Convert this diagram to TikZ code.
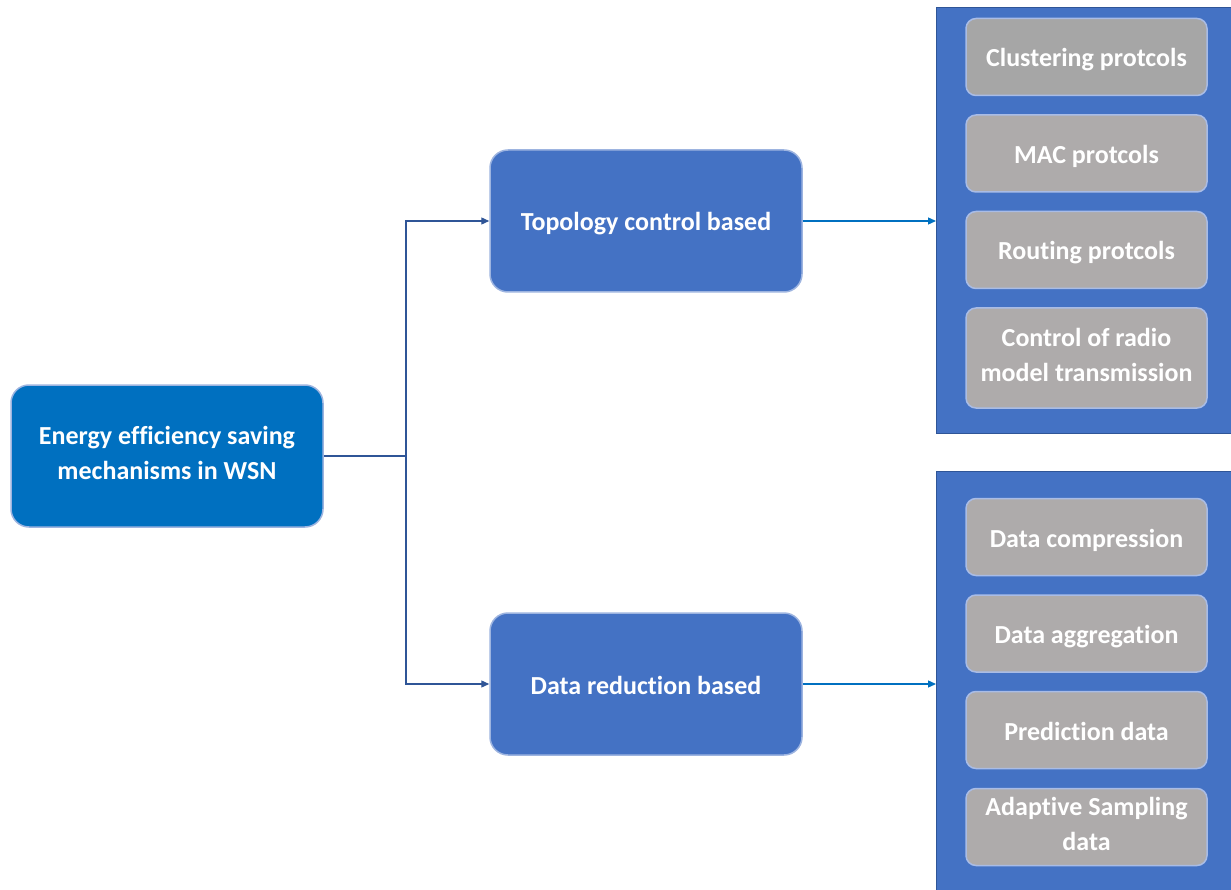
\documentclass[tikz,border=0pt]{standalone}
\usepackage{fontspec}
\setmainfont{Carlito}[Ligatures={NoCommon}]
\usetikzlibrary{arrows.meta}
\definecolor{mainblue}{HTML}{0070C0}
\definecolor{midblue}{HTML}{4472C4}
\definecolor{edgeblue}{HTML}{9DB4E0}
\definecolor{linkblue}{HTML}{2F5597}
\definecolor{panelblue}{HTML}{4472C4}
\definecolor{paneledge}{HTML}{2F5597}
\definecolor{greybox}{HTML}{AEABAB}
\definecolor{greyedge}{HTML}{A9BCE6}
\tikzset{
  txt/.style={text=white, align=center, inner sep=0pt,
    font=\fontsize{26}{35}\selectfont\bfseries,
    execute at begin node={\rule[-6pt]{0pt}{32pt}},
    execute at end node={\rule[-6pt]{0pt}{6pt}}},
  twoline/.style={execute at end node={}},
  rootbox/.style={txt, draw=edgeblue, line width=1.5pt, fill=mainblue, rounded corners=18pt,
    minimum width=312pt, minimum height=142pt},
  midbox/.style={txt, draw=edgeblue, line width=1.5pt, fill=midblue, rounded corners=18pt,
    minimum width=312pt, minimum height=142pt},
  itembox/.style={txt, draw=greyedge, line width=1.5pt, fill=greybox, rounded corners=10pt,
    minimum width=241pt, minimum height=77pt},
  panel/.style={draw=paneledge, line width=0.8pt, fill=panelblue},
  linkline/.style={draw=linkblue, line width=1.3pt},
  linkarrow/.style={draw=linkblue, line width=1.3pt, -{Triangle[length=8pt,width=7pt]}},
  outarrow/.style={draw=mainblue, line width=1.3pt, -{Triangle[length=8pt,width=7pt]}},
}
\begin{document}
\begin{tikzpicture}[x=1pt,y=-1pt]
\useasboundingbox (0,0) rectangle (1231,890);
\fill[white] (0,0) rectangle (1231,890);
% panels
\path[panel] (936,7) rectangle (1236,433);
\path[panel] (936,471) rectangle (1236,895);
\coordinate (p1) at (936,221);
\coordinate (p2) at (936,684);
% main nodes
\node[rootbox, twoline] (root) at (167,456) {Energy efficiency saving\\mechanisms in WSN};
\node[midbox] (topo) at (646,221) {Topology control based};
\node[midbox] (data) at (646,684) {Data reduction based};
% items
\node[itembox, fill={rgb,255:red,166;green,166;blue,166}] (c1) at (1086.5,57) {Clustering protcols};
\node[itembox] (c2) at (1086.5,153.5) {MAC protcols};
\node[itembox] (c3) at (1086.5,250) {Routing protcols};
\node[itembox, twoline, minimum height=100pt] (c4) at (1086.5,358) {Control of radio\\model transmission};
\node[itembox] (d1) at (1086.5,537) {Data compression};
\node[itembox] (d2) at (1086.5,633.5) {Data aggregation};
\node[itembox] (d3) at (1086.5,730) {Prediction data};
\node[itembox, twoline] (d4) at (1086.5,827) {Adaptive Sampling\\data};
% connectors
\coordinate (j) at (406,456);
\draw[linkline] (root.east) -- (j);
\draw[linkarrow] (j) |- (topo.west);
\draw[linkarrow] (j) |- (data.west);
\draw[outarrow] (topo.east) -- (p1);
\draw[outarrow] (data.east) -- (p2);
\end{tikzpicture}
\end{document}
